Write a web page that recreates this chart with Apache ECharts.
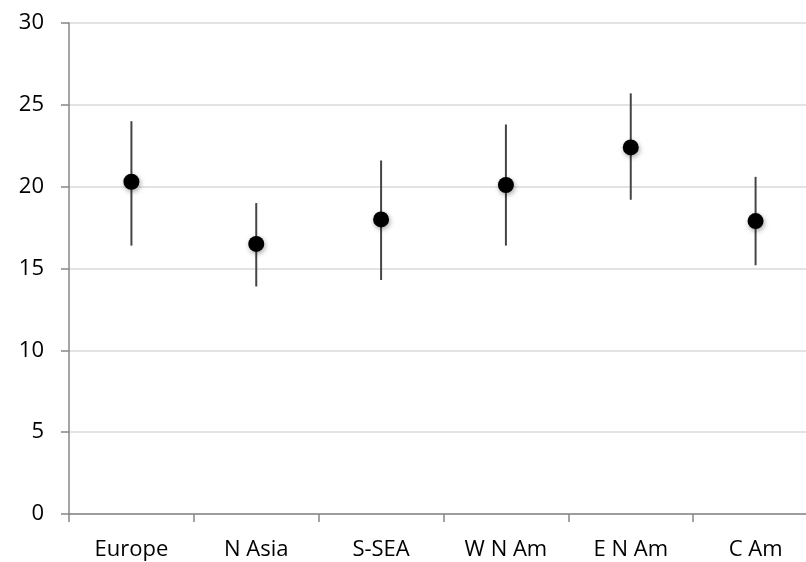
<!DOCTYPE html>
<html>
<head>
<meta charset="utf-8">
<script src="https://cdn.jsdelivr.net/npm/echarts@6/dist/echarts.min.js"></script>
<style>
  html, body { margin: 0; padding: 0; background: #fff; }
  #chart { width: 806px; height: 562px; }
</style>
</head>
<body>
<div id="chart"></div>
<script>
// Regions and their mean values with lower/upper interval bounds
const categories = ['Europe', 'N Asia', 'S-SEA', 'W N Am', 'E N Am', 'C Am'];
const means = [20.3, 16.5, 18.0, 20.1, 22.4, 17.9];
const lower = [16.4, 13.9, 14.3, 16.4, 19.2, 15.2];
const upper = [24.0, 19.0, 21.6, 23.8, 25.7, 20.6];

const fontFamily = '"Open Sans", sans-serif';
const errorData = categories.map((c, i) => [i, lower[i], upper[i]]);

const chart = echarts.init(document.getElementById('chart'), null, { renderer: 'canvas' });
chart.setOption({
  animation: false,
  backgroundColor: '#ffffff',
  // plot area runs slightly past the right edge of the canvas
  grid: { left: 69, top: 23, width: 749, height: 491, containLabel: false, outerBoundsMode: 'none' },
  xAxis: {
    type: 'category',
    data: categories,
    boundaryGap: true,
    axisLine: { lineStyle: { color: '#878787', width: 1.5 } },
    axisTick: { show: true, alignWithLabel: false, length: 8, lineStyle: { color: '#878787', width: 1.5 } },
    axisLabel: { color: '#000', fontSize: 22, fontFamily, margin: 25 },
    splitLine: { show: false }
  },
  yAxis: {
    type: 'value',
    min: 0, max: 30, interval: 5,
    axisLine: { show: true, lineStyle: { color: '#878787', width: 1.5 } },
    axisTick: { show: true, length: 8, lineStyle: { color: '#878787', width: 1.5 } },
    axisLabel: { color: '#000', fontSize: 22, fontFamily, margin: 25 },
    splitLine: { show: true, lineStyle: { color: '#dadada', width: 1.5 } }
  },
  series: [
    {
      type: 'custom',
      data: errorData,
      z: 2,
      renderItem: function (params, api) {
        const x = api.value(0);
        const lo = api.coord([x, api.value(1)]);
        const hi = api.coord([x, api.value(2)]);
        return {
          type: 'line',
          shape: { x1: lo[0], y1: lo[1], x2: hi[0], y2: hi[1] },
          style: { stroke: '#454545', lineWidth: 2 }
        };
      }
    },
    {
      type: 'scatter',
      data: means,
      z: 3,
      symbol: 'circle',
      symbolSize: 16,
      itemStyle: {
        color: '#000',
        opacity: 1,
        shadowBlur: 5,
        shadowOffsetX: 1,
        shadowOffsetY: 2,
        shadowColor: 'rgba(0,0,0,0.35)'
      }
    }
  ]
});
</script>
</body>
</html>
